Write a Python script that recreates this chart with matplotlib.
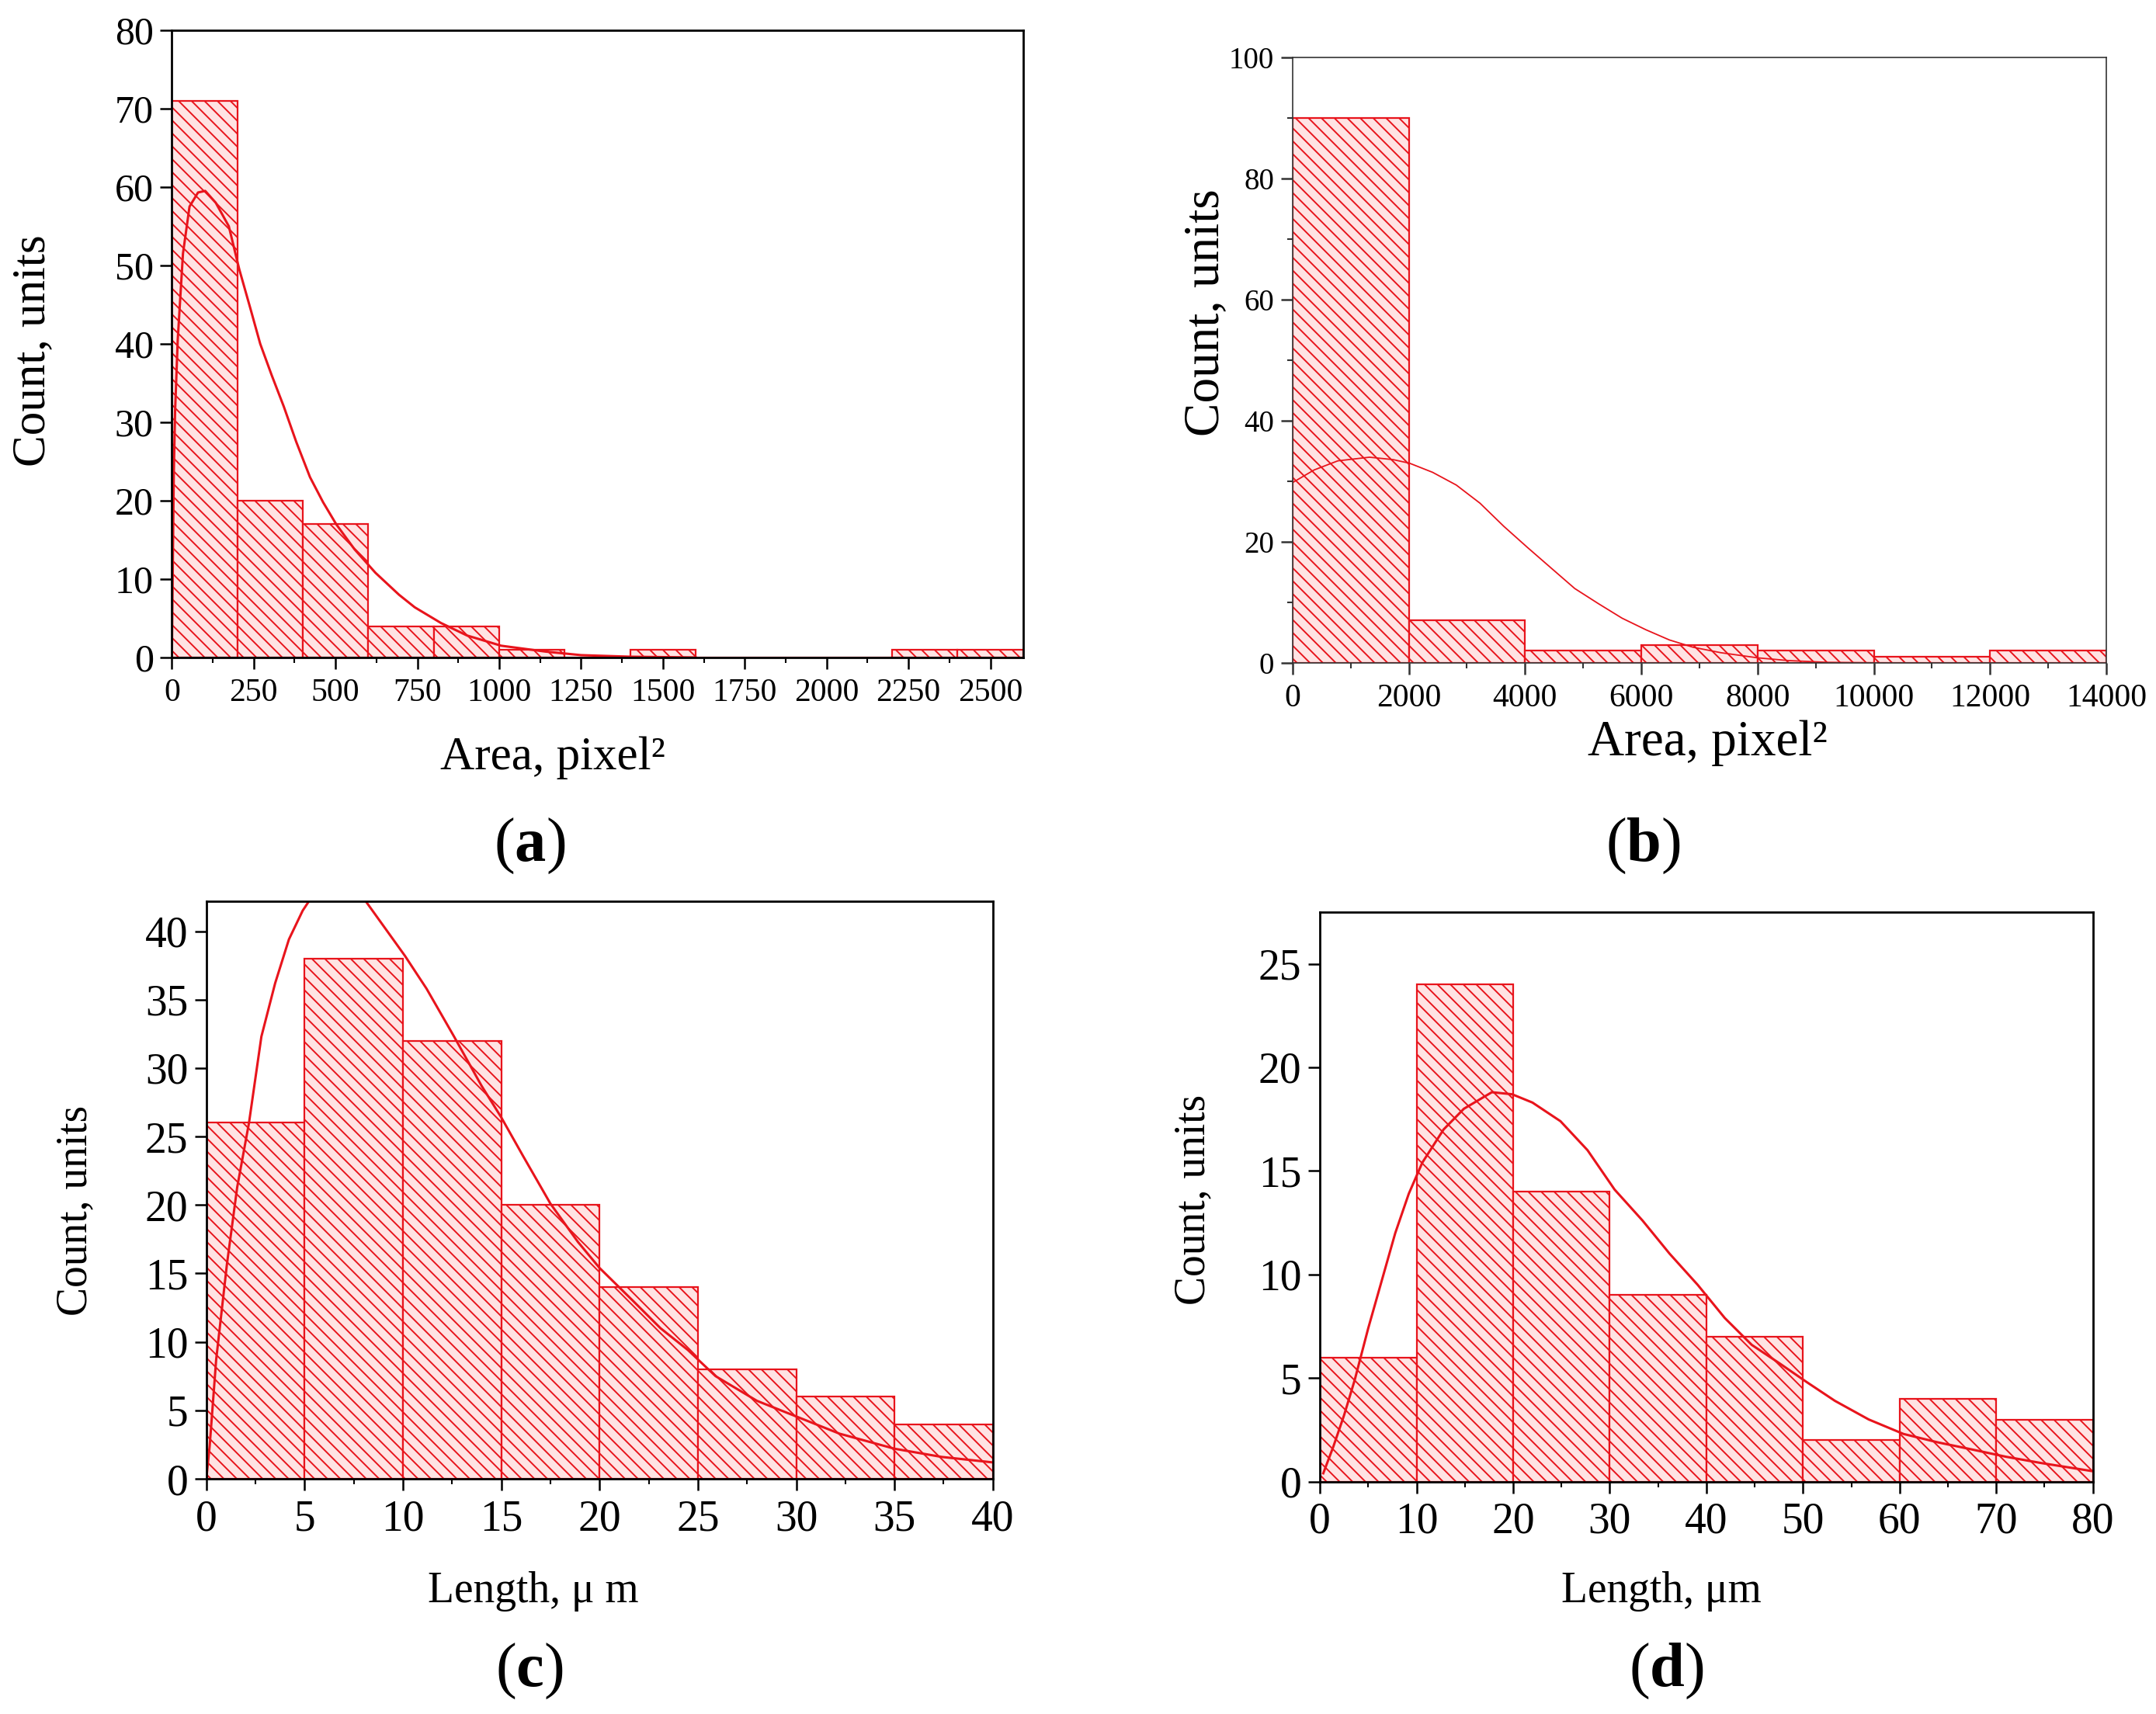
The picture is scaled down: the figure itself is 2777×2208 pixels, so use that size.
import matplotlib
matplotlib.use("Agg")
import matplotlib.pyplot as plt
from matplotlib.ticker import MultipleLocator

plt.rcParams['font.family'] = ['Liberation Serif', 'DejaVu Serif']
plt.rcParams['mathtext.fontset'] = 'custom'
plt.rcParams['mathtext.rm'] = 'Liberation Serif'
plt.rcParams['mathtext.bf'] = 'Liberation Serif:bold'
plt.rcParams['hatch.linewidth'] = 1.4

RED = '#e8141c'
FACE = '#ffe3e3'

# (a) area distribution, first sample
a_edges = [0, 200, 400, 600, 800, 1000, 1200, 1400, 1600, 1800, 2000, 2200, 2400, 2600]
a_counts = [71, 20, 17, 4, 4, 1, 0, 1, 0, 0, 0, 1, 1]
a_curve_x = [0, 3, 6, 10, 18, 34, 54, 80, 102, 134, 174, 206, 240, 270, 305, 342, 380, 422,
             462, 502, 558, 622, 694, 742, 822, 902, 1006, 1142, 1250, 1400, 1600]
a_curve_y = [0, 12, 23.5, 31.5, 40.5, 51.5, 57.5, 59.3, 59.5, 58, 55, 49.5, 44.5, 40, 36, 32,
             27.5, 23, 19.8, 17, 13.8, 10.8, 8.0, 6.4, 4.4, 2.8, 1.5, 0.75, 0.3, 0.1, 0]

# (b) area distribution, second sample
b_edges = [0, 2000, 4000, 6000, 8000, 10000, 12000, 14000]
b_counts = [90, 7, 2, 3, 2, 1, 2]
b_curve_x = [0, 373, 780, 1324, 1731, 2015, 2410, 2817, 3225, 3632, 4040, 4447, 4855,
             5262, 5669, 6076, 6484, 6891, 7366, 8000, 8530, 9200, 10000, 11000, 14000]
b_curve_y = [29.8, 31.9, 33.4, 34.0, 33.6, 33.0, 31.5, 29.4, 26.4, 22.6, 19.1, 15.7, 12.3,
             9.8, 7.4, 5.5, 3.8, 2.6, 1.7, 0.85, 0.4, 0.1, 0.03, 0, 0]

# (c) length distribution, first sample
c_edges = [0, 5, 10, 15, 20, 25, 30, 35, 40]
c_counts = [26, 38, 32, 20, 14, 8, 6, 4]
c_curve_x = [0, 0.17, 0.5, 1.05, 1.57, 2.17, 2.8, 3.5, 4.2, 4.9, 5.5, 6.5, 7.5, 8.0, 9.1,
             10.1, 11.2, 12.6, 14.0, 15.0, 16.1, 17.5, 18.9, 20.0, 21.7, 23.1, 24.5, 25.9,
             28.0, 30.1, 32.2, 35.0, 37.4, 40.0]
c_curve_y = [0, 2.4, 8.7, 15.7, 21.3, 26.0, 32.3, 36.2, 39.4, 41.5, 42.8, 43.4, 43.1, 42.4, 40.2,
             38.2, 35.8, 32.3, 28.7, 26.4, 23.6, 20.1, 17.3, 15.4, 13.0, 11.0, 9.4, 7.5,
             5.7, 4.5, 3.3, 2.2, 1.6, 1.2]

# (d) length distribution, second sample
d_edges = [0, 10, 20, 30, 40, 50, 60, 70, 80]
d_counts = [6, 24, 14, 9, 7, 2, 4, 3]
d_curve_x = [0.35, 1.4, 2.5, 3.6, 5.0, 6.4, 7.8, 9.2, 10.6, 12.8, 14.9, 17.8, 19.9, 22.0,
             24.9, 27.7, 30.5, 33.4, 36.2, 39.1, 41.9, 44.7, 47.6, 50.4, 53.3, 56.8, 60.4,
             63.9, 67.5, 71.0, 74.6, 80.0]
d_curve_y = [0.4, 1.7, 3.2, 4.9, 7.4, 9.7, 12.0, 13.9, 15.4, 17.0, 18.0, 18.8, 18.7, 18.3,
             17.4, 16.0, 14.1, 12.6, 11.0, 9.5, 7.9, 6.6, 5.7, 4.8, 3.9, 3.0, 2.3,
             1.9, 1.55, 1.2, 0.9, 0.5]


def draw_hist(ax, edges, counts, cx, cy, curve_lw=2.2):
    lefts = edges[:-1]
    widths = [edges[i + 1] - edges[i] for i in range(len(counts))]
    ax.bar(lefts, counts, width=widths, align='edge', facecolor=FACE,
           edgecolor=RED, hatch='\\\\', linewidth=1.6, zorder=2)
    ax.plot(cx, cy, color=RED, lw=curve_lw, zorder=3)
    ax.set_xlim(edges[0], edges[-1])


def style_axes(ax, xmaj, xmin, ymaj, ymin, xsize, ysize, spine_lw=2.0, spine_color='black'):
    ax.xaxis.set_major_locator(MultipleLocator(xmaj))
    ax.xaxis.set_minor_locator(MultipleLocator(xmin))
    ax.yaxis.set_major_locator(MultipleLocator(ymaj))
    if ymin:
        ax.yaxis.set_minor_locator(MultipleLocator(ymin))
    ax.tick_params(which='major', direction='out', length=11, width=1.8,
                   color=spine_color, top=False, right=False)
    ax.tick_params(which='minor', direction='out', length=5, width=1.5,
                   color=spine_color, top=False, right=False)
    ax.tick_params(axis='x', which='major', labelsize=xsize, pad=8)
    ax.tick_params(axis='y', which='major', labelsize=ysize, pad=6)
    for sp in ax.spines.values():
        sp.set_linewidth(spine_lw)
        sp.set_color(spine_color)
        sp.set_zorder(4)


fig = plt.figure(figsize=(27.77, 22.08), dpi=100)

# panel (a)
ax_a = fig.add_axes([0.0797, 0.6164, 0.3948, 0.366])
draw_hist(ax_a, a_edges, a_counts, a_curve_x, a_curve_y)
ax_a.set_ylim(0, 80)
style_axes(ax_a, 250, 125, 10, None, 30, 36)

# panel (b)
ax_b = fig.add_axes([0.5995, 0.6132, 0.3775, 0.3531])
draw_hist(ax_b, b_edges, b_counts, b_curve_x, b_curve_y, curve_lw=1.3)
ax_b.set_ylim(0, 100)
style_axes(ax_b, 2000, 1000, 20, 10, 30, 28, spine_lw=1.2, spine_color='#333333')

# panel (c)
ax_c = fig.add_axes([0.0957, 0.1372, 0.3648, 0.3371])
draw_hist(ax_c, c_edges, c_counts, c_curve_x, c_curve_y)
ax_c.set_ylim(0, 42.2)
style_axes(ax_c, 5, 2.5, 5, None, 40, 40)

# panel (d)
ax_d = fig.add_axes([0.6122, 0.1356, 0.3585, 0.3323])
draw_hist(ax_d, d_edges, d_counts, d_curve_x, d_curve_y)
ax_d.set_ylim(0, 27.5)
style_axes(ax_d, 10, 5, 5, None, 40, 40)

# axis labels
fig.text(0.0153, 0.7953, 'Count, units', rotation=90, ha='center', va='center', fontsize=44)
fig.text(0.2564, 0.5578, 'Area, pixel²', ha='center', va='center', fontsize=44)
fig.text(0.5593, 0.8178, 'Count, units', rotation=90, ha='center', va='center', fontsize=47)
fig.text(0.7920, 0.5666, 'Area, pixel²', ha='center', va='center', fontsize=47)
fig.text(0.0351, 0.2937, 'Count, units', rotation=90, ha='center', va='center', fontsize=40)
fig.text(0.2474, 0.0714, 'Length, μ m', ha='center', va='center', fontsize=40)
fig.text(0.5536, 0.3002, 'Count, units', rotation=90, ha='center', va='center', fontsize=40)
fig.text(0.7704, 0.0714, 'Length, μm', ha='center', va='center', fontsize=40)

# panel letters
for x, y, letter in [(0.2455, 0.5064, 'a'), (0.7621, 0.5064, 'b'),
                     (0.2455, 0.0249, 'c'), (0.7730, 0.0249, 'd')]:
    fig.text(x, y, r'($\mathbf{%s}$)' % letter, ha='center', va='center', fontsize=58)

fig.savefig('out.png', dpi=100)
